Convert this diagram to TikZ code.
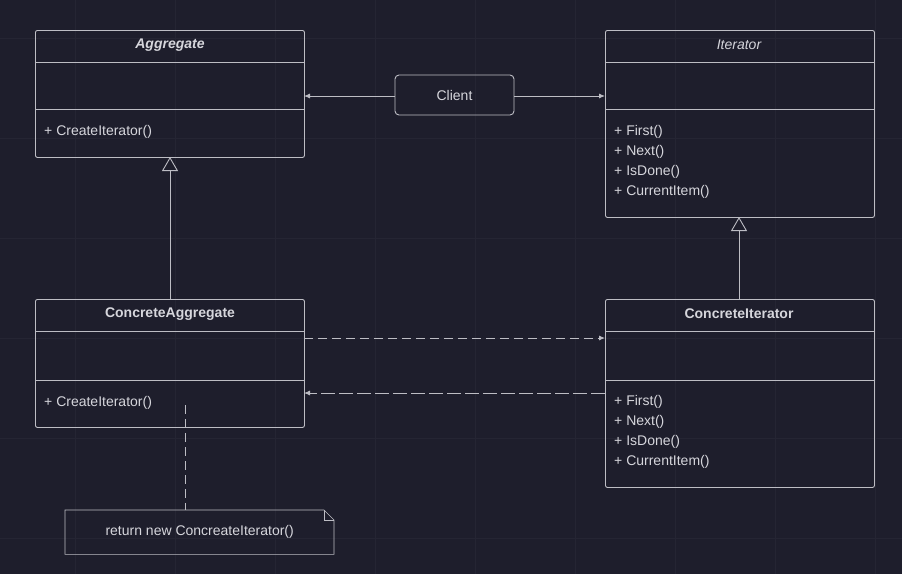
\documentclass[tikz,border=0pt]{standalone}
\usepackage{fontspec}
\setmainfont{Liberation Sans}
\usepackage{xcolor}
\usetikzlibrary{arrows.meta,positioning,shapes.misc}
\definecolor{mbg}{HTML}{1E1E2C}
\definecolor{mline}{HTML}{BDBDC4}
\definecolor{mtext}{HTML}{D6D6DC}
\definecolor{mgrid}{HTML}{252533}
\tikzstyle{l1}=[line width=0.9, color=mline]
\tikzstyle{cls}=[l1, draw, rounded corners=2, anchor=north west, minimum width=269, inner sep=0]
\tikzstyle{title}=[text=mtext, font=\bfseries\fontsize{14}{16}\selectfont]
\tikzstyle{meth}=[text=mtext, anchor=west, inner sep=0, font=\fontsize{14}{16}\selectfont]
\tikzstyle{assoc}=[l1, -{Latex[length=6,width=5]}]
\tikzstyle{dep}=[l1, dash pattern=on 9 off 5, -{Latex[length=6,width=5]}]
\tikzstyle{inh}=[l1, -{Triangle[open,length=14,width=16]}]

\begin{document}
\begin{tikzpicture}[x=1pt,y=-1pt]
    \fill[mbg] (0,0) rectangle (902,574);
    \useasboundingbox (0,0) rectangle (902,574);
    % faint grid
    \foreach \gx in {75,175,275,375,475,575,675,775,875}
        \draw[mgrid, line width=0.5] (\gx,0) -- (\gx,574);
    \foreach \gy in {38,138,238,338,438,538}
        \draw[mgrid, line width=0.5] (0,\gy) -- (902,\gy);

    % classes
    \node (agg) [cls, minimum height=127] at (35,30) {};
    \node (itr) [cls, minimum height=187] at (605,30) {};
    \node (cagg) [cls, minimum height=128] at (35,299) {};
    \node (citr) [cls, minimum height=188] at (605,299) {};
    \draw[l1] (35,62) -- (304,62) (35,109) -- (304,109);
    \draw[l1] (605,62) -- (874,62) (605,109) -- (874,109);
    \draw[l1] (35,331) -- (304,331) (35,380) -- (304,380);
    \draw[l1] (605,331) -- (874,331) (605,380) -- (874,380);

    \node[title, font=\bfseries\itshape\fontsize{14}{16}\selectfont] at (170,45) {Aggregate};
    \node[title, font=\itshape\fontsize{14}{16}\selectfont] at (739,45) {Iterator};
    \node[title] at (170,314) {ConcreteAggregate};
    \node[title] at (739,314) {ConcreteIterator};

    \node[meth] at (44,132) {+ CreateIterator()};
    \node[meth] at (44,403) {+ CreateIterator()};
    \foreach \m [count=\i from 0] in {First(),Next(),IsDone(),CurrentItem()} {
        \node[meth] at (614,132+20*\i) {+ \m};
        \node[meth] at (614,402+20*\i) {+ \m};
    }

    % client
    \node (client) [l1, draw, rounded corners=4, minimum width=119, minimum height=40, text=mtext, font=\fontsize{14}{16}\selectfont] at (454.5,95) {Client};
    \coordinate (aggin) at (304,96);
    \coordinate (itrin) at (605,96);
    \draw[assoc] (client.west |- aggin) -- (aggin);
    \draw[assoc] (client.east |- itrin) -- (itrin);

    % inheritance
    \draw[inh] (cagg.north -| 170,0) -- (170,157);
    \draw[inh] (citr.north -| 739,0) -- (739,217);

    % dependencies
    \draw[dep] (304,338) -- (605,338);
    \draw[dep, dash pattern=on 14 off 4] (605,393) -- (304,393);

    % note
    \node (note) [anchor=north west, minimum width=269, minimum height=44, inner sep=0, text=mtext, font=\fontsize{14}{16}\selectfont] at (65,510) {return new ConcreateIterator()};
    \draw[l1, line width=0.6] (note.north west) -- ++(259,0) -- ++(10,10) |- (note.south west) -- cycle;
    \draw[l1, line width=0.6] (note.north east) ++(-10,0) -- ++(0,10) -- ++(10,0);
    \draw[l1, dash pattern=on 9 off 5] (185,405) -- (note.north west -| 185,0);
\end{tikzpicture}
\end{document}
